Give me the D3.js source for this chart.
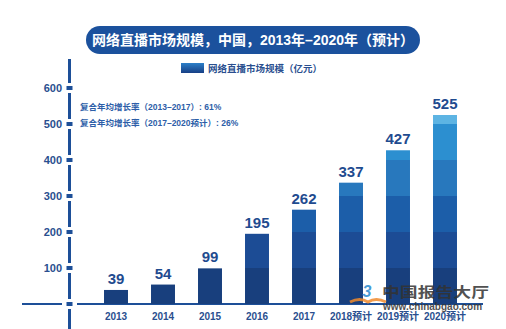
<!DOCTYPE html>
<html>
<head>
<meta charset="utf-8">
<script src="https://cdn.jsdelivr.net/npm/d3@7"></script>
<style>
  html, body { margin: 0; padding: 0; background: #fff; }
  svg { display: block; }
  text { font-family: "Liberation Sans", Arial, "Noto Sans CJK SC", sans-serif; }
</style>
</head>
<body>
<svg id="chart" width="506" height="329"></svg>
<script>
// Market size of live streaming in China, 100 million yuan
const years = ["2013", "2014", "2015", "2016", "2017", "2018预计", "2019预计", "2020预计"];
const values = [39, 54, 99, 195, 262, 337, 427, 525];
const yTicks = [100, 200, 300, 400, 500, 600];
const bandEdges = [0, 100, 200, 300, 400, 500, 600];
const titleText = "网络直播市场规模，中国，2013年–2020年（预计）";
const legendText = "网络直播市场规模（亿元）";
const notes = ["复合年均增长率（2013–2017）: 61%", "复合年均增长率（2017–2020预计）: 26%"];

const svg = d3.select("#chart");
const bandColors = ["#183f7d", "#1c4c95", "#1c5ea9", "#2878bd", "#2c8fd0", "#5db4e3"];

const y = d3.scaleLinear().domain([0, 600]).range([304, 88]);
const x = d3.scaleBand().domain(years).range([92.5, 468.5])
  .paddingInner(0.49).paddingOuter(0.245);

// Title pill
svg.append("rect").attr("x", 86).attr("y", 26).attr("width", 334).attr("height", 28)
  .attr("rx", 14).attr("fill", "#1b519d");
svg.append("text").attr("x", 253).attr("y", 45).attr("text-anchor", "middle")
  .attr("fill", "#fff").attr("font-size", 14).attr("font-weight", "bold")
  .text(titleText);

// Legend
const grad = svg.append("defs").append("linearGradient").attr("id", "lg")
  .attr("x1", 0).attr("y1", 0).attr("x2", 0).attr("y2", 1);
grad.append("stop").attr("offset", 0).attr("stop-color", "#2c7fc8");
grad.append("stop").attr("offset", 1).attr("stop-color", "#173f85");
svg.append("rect").attr("x", 181).attr("y", 63).attr("width", 23).attr("height", 10)
  .attr("fill", "url(#lg)");
svg.append("text").attr("x", 208).attr("y", 72).attr("fill", "#2a4f8f")
  .attr("font-size", 9.5).attr("font-weight", "bold").text(legendText);

// Y axis: dashed spine interrupted by square tick marks
const axisX = 69.5;
const stops = [600, 500, 400, 300, 200, 100, 0].map(v => y(v));
svg.append("line").attr("x1", axisX).attr("x2", axisX).attr("y1", 59).attr("y2", stops[0] - 5)
  .attr("stroke", "#1d4f98").attr("stroke-width", 3);
stops.forEach((s, i) => {
  if (i === 0) return;
  svg.append("line").attr("x1", axisX).attr("x2", axisX)
    .attr("y1", stops[i - 1] + 5).attr("y2", s - 5)
    .attr("stroke", "#1d4f98").attr("stroke-width", 3);
});
svg.append("line").attr("x1", axisX).attr("x2", axisX).attr("y1", y(0) + 5).attr("y2", 329)
  .attr("stroke", "#1d4f98").attr("stroke-width", 3);
[0].concat(yTicks).forEach(v => {
  svg.append("rect").attr("x", axisX - 3).attr("y", y(v) - 2).attr("width", 6).attr("height", 4)
    .attr("fill", "#1d4f98");
});
svg.append("g").selectAll("text").data(yTicks).join("text")
  .attr("x", 62).attr("y", d => y(d) + 4).attr("text-anchor", "end")
  .attr("fill", "#2a4f8f").attr("font-size", 11).attr("font-weight", "bold")
  .text(d => d);

// Baseline
svg.append("line").attr("x1", 22).attr("x2", 62).attr("y1", y(0)).attr("y2", y(0))
  .attr("stroke", "#1d4f98").attr("stroke-width", 2);
svg.append("line").attr("x1", 77).attr("x2", 483).attr("y1", y(0)).attr("y2", y(0))
  .attr("stroke", "#1d4f98").attr("stroke-width", 2);

// Bars, shaded in 100-unit bands
const bars = svg.append("g");
years.forEach((yr, i) => {
  const v = values[i];
  for (let b = 0; b < bandEdges.length - 1; b++) {
    const lo = bandEdges[b], hi = Math.min(bandEdges[b + 1], v);
    if (lo >= v) break;
    bars.append("rect").attr("x", x(yr)).attr("width", x.bandwidth())
      .attr("y", y(hi)).attr("height", y(lo) - y(hi))
      .attr("fill", bandColors[b]);
  }
});

// Value labels
svg.append("g").selectAll("text").data(values).join("text")
  .attr("x", (d, i) => x(years[i]) + x.bandwidth() / 2)
  .attr("y", d => y(d) - 6).attr("text-anchor", "middle")
  .attr("fill", "#1f4b8f").attr("font-size", 15).attr("font-weight", "bold")
  .text(d => d);

// Category labels
svg.append("g").selectAll("text").data(years).join("text")
  .attr("x", d => x(d) + x.bandwidth() / 2).attr("y", 320).attr("text-anchor", "middle")
  .attr("fill", "#2a4f8f").attr("font-size", 10).attr("font-weight", "bold")
  .text(d => d);

// Growth notes
notes.forEach((t, i) => {
  svg.append("text").attr("x", 80).attr("y", 110 + i * 16)
    .attr("fill", "#2d5ea8").attr("font-size", 8.5).attr("font-weight", "bold").text(t);
});

// Site mark
const wm = svg.append("g").attr("opacity", 0.85);
wm.append("path").attr("d", "M350,302 Q360,297 368,302 Q376,297 386,302")
  .attr("fill", "none").attr("stroke", "#f08a2c").attr("stroke-width", 3);
wm.append("text").attr("x", 367).attr("y", 297).attr("text-anchor", "middle")
  .attr("fill", "#2a8ad0").attr("font-size", 16).attr("font-weight", "bold")
  .attr("font-style", "italic").text("3");
wm.append("text").attr("x", 382).attr("y", 297).attr("fill", "#333")
  .attr("font-size", 14).attr("font-weight", "bold")
  .attr("textLength", 107).attr("lengthAdjust", "spacingAndGlyphs")
  .attr("font-family", "Noto Sans CJK SC").text("中国报告大厅");
wm.append("text").attr("x", 383).attr("y", 310).attr("fill", "#333")
  .attr("font-size", 10).attr("font-weight", "bold").text("www.chinabgao.com");
</script>
</body>
</html>
